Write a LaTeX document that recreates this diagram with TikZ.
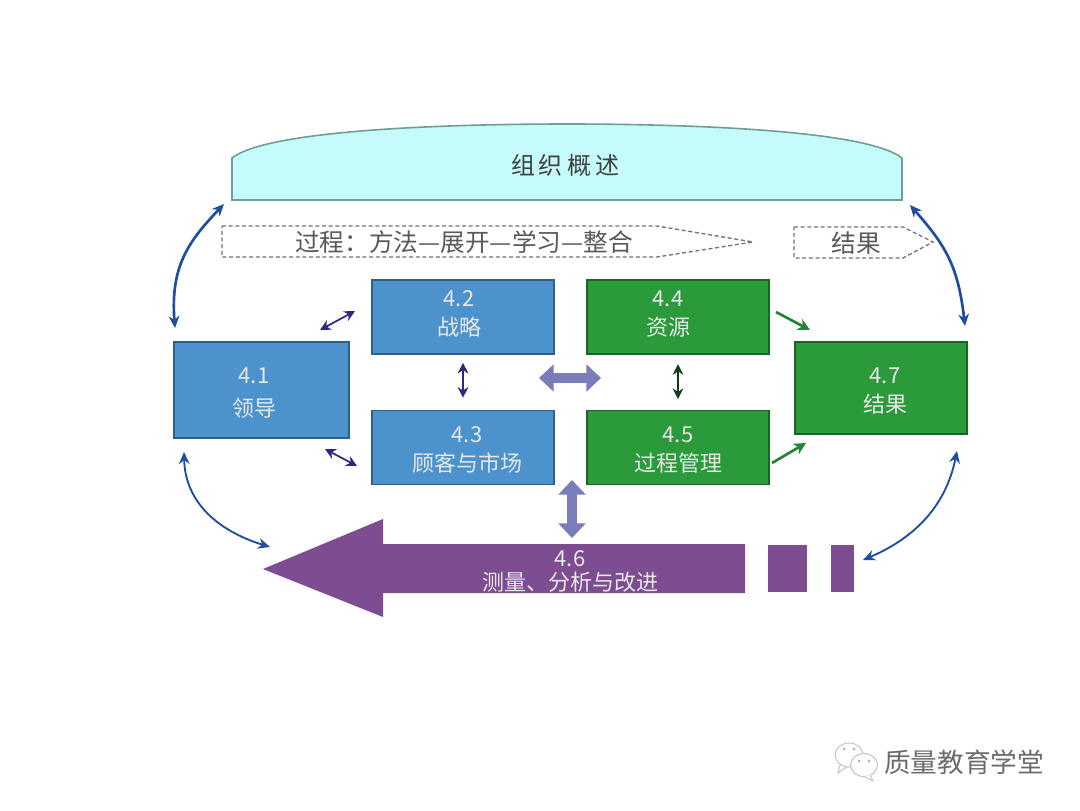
\documentclass[tikz,border=0pt]{standalone}
\usepackage{fontspec}
\setmainfont{Noto Sans CJK SC}
\usetikzlibrary{arrows.meta,positioning}
\definecolor{bluebox}{HTML}{4C93CE}
\definecolor{greenbox}{HTML}{2B9A3B}
\definecolor{purplebar}{HTML}{7D4C91}
\definecolor{fatarr}{HTML}{7B7DBB}
\definecolor{curve}{HTML}{1F4E9E}
\definecolor{navy}{HTML}{2B2A80}
\definecolor{skyfill}{HTML}{C6FBFB}
\definecolor{skyline}{HTML}{6E9F92}
\tikzset{box/.style={draw=#1!65!black,fill=#1,line width=1.2pt,minimum width=136.5pt,minimum height=55.5pt,inner sep=0pt},
lab/.style={text=white!82!gray,align=center,font=\fontsize{16.5}{22}\selectfont,inner sep=0pt},
dashbox/.style={draw=black!55,dash pattern=on 3pt off 2pt,line width=1pt},
dashtxt/.style={text=black!65,font=\fontsize{18.5}{20}\selectfont,inner sep=0pt},
arr/.style={<->,>={Stealth[length=8pt,width=8pt]}},
bendarr/.style={<->,>={Stealth[length=9pt,width=8pt]},curve,line width=2pt},
greenarr/.style={->,>={Stealth[length=9pt,width=9pt]},greenbox!85!black,line width=2pt},
fat/.style={fatarr,line width=8pt,{Triangle[length=11pt,width=20pt]}-{Triangle[length=11pt,width=20pt]}}}
\begin{document}
\begin{tikzpicture}[x=.75pt,y=-.75pt]
\useasboundingbox(0,0)rectangle(1080,810);
\fill[white](0,0)rectangle(1080,810);
% top banner
\draw[skyline,fill=skyfill,line width=1.2pt](232,200)--(232,158)..controls(270,128)and(470,124)..(567,124)..controls(664,124)and(864,128)..(902,158)--(902,200)--cycle;
\node[dashtxt,text=black!75,font=\fontsize{18}{20}\selectfont](org)at(565,165){组\,织\,概\,述};
% dashed headers
\draw[dashbox](222,226)--(657,226)--(753,242)--(657,257)--(222,257)--cycle;
\node[dashtxt](proc)at(464,242){过程：方法—展开—学习—整合};
\draw[dashbox](794,227)--(903,227)--(933,242)--(903,258)--(794,258)--cycle;
\node[dashtxt](res)at(856,243){结果};
% boxes
\node[box=bluebox,minimum width=131pt,minimum height=72pt](a)at(261.5,390){};
\node[box=bluebox](b)at(463,317){};
\node[box=bluebox](c)at(463,447.5){};
\node[box=greenbox](d)at(678,317){};
\node[box=greenbox](e)at(678,447.5){};
\node[box=greenbox,minimum width=129pt,minimum height=69pt](g)at(881,388){};
\node[lab](ta)at(254,393){4.1\\[3pt]领导};
\node[lab](tb)at(459,314){4.2\\战略};
\node[lab](tc)at(467,450){4.3\\顾客与市场};
\node[lab](td)at(668,314){4.4\\资源};
\node[lab](te)at(678,450){4.5\\过程管理};
\node[lab](tg)at(885,391){4.7\\结果};
% measurement bar
\fill[purplebar](263,569)--(383,519)--(383,544)--(745,544)--(745,593)--(383,593)--(383,617)--cycle;
\fill[purplebar](768,545)rectangle(807,592);
\fill[purplebar](831,545)rectangle(854,592);
\node[lab,font=\fontsize{16.5}{18}\selectfont](tf)at(570,571){4.6\\测量、分析与改进};
% fat arrows
\coordinate(hl)at(539,378);\coordinate(hr)at(601,378);
\coordinate(vt)at(572,480);\coordinate(vb)at(572,538);
\draw[fat](hl)--(hr);
\draw[fat](vt)--(vb);
% small arrows
\coordinate(ab1)at(320,330);\coordinate(ab2)at(355,311);
\coordinate(ac1)at(325,449);\coordinate(ac2)at(357,466);
\coordinate(dg1)at(776,312);\coordinate(dg2)at(810,330);
\coordinate(eg1)at(772,463);\coordinate(eg2)at(806,443);
\draw[arr,navy,line width=1.3pt](ab1)--(ab2);
\draw[arr,navy,line width=1.3pt](ac1)--(ac2);
\draw[arr,navy,line width=1.3pt,shorten <=6pt,shorten >=9pt](b.south)--(c.north);
\draw[arr,black!60!greenbox,line width=1.3pt,shorten <=7pt,shorten >=8pt](d.south)--(e.north);
\draw[greenarr](dg1)--(dg2);
\draw[greenarr](eg1)--(eg2);
% curved arrows
\coordinate(c1)at(175,328);\coordinate(c2)at(224,204);
\coordinate(c3)at(965,326);\coordinate(c4)at(910,205);
\coordinate(c5)at(184,452);\coordinate(c6)at(270,547);
\coordinate(c7)at(957,451);\coordinate(c8)at(863,560);
\draw[bendarr](c1)..controls(170,265)and(190,240)..(c2);
\draw[bendarr](c3)..controls(958,265)and(945,245)..(c4);
\draw[bendarr,line width=1.4pt](c5)..controls(185,500)and(215,530)..(c6);
\draw[bendarr,line width=1.4pt](c7)..controls(945,510)and(910,540)..(c8);
% watermark
\begin{scope}[draw=black!22,line width=.8pt]
\draw[fill=white](849,755)ellipse[x radius=14,y radius=12];
\draw(840,765)--(838,773)--(847,767);
\draw[fill=white](864,765)ellipse[x radius=13.5,y radius=11.5];
\draw[fill=white](870,775)--(873,781)--(864,776.5);
\fill[black!30](844,749)circle(1.5)(854,749)circle(1.5)(859,761)circle(1.5)(869,761)circle(1.5);
\end{scope}
\node[text=black!58,font=\fontsize{20}{22}\selectfont,inner sep=0pt](mark)at(964,762){质量教育学堂};
\end{tikzpicture}
\end{document}
